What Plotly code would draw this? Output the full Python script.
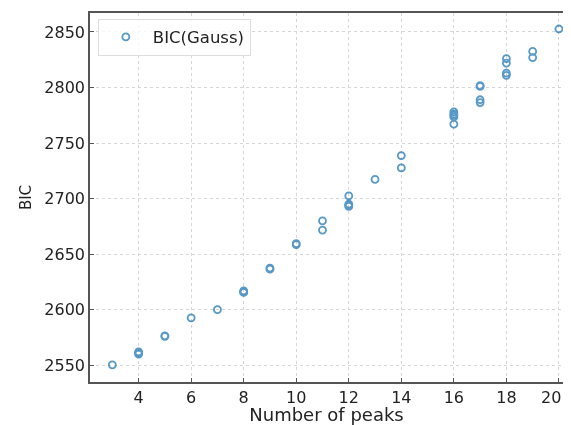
import plotly.graph_objects as go

# Data (number of peaks vs BIC)
peaks = [3, 4, 4, 4, 5, 5, 6, 7, 8, 8, 8, 9, 9, 10, 10,
         11, 11, 12, 12, 12, 12, 13, 14, 14,
         16, 16, 16, 16, 16, 17, 17, 17, 17,
         18, 18, 18, 18, 19, 19, 20]
bic = [2550.3, 2562, 2561, 2560, 2576.5, 2576, 2592.7, 2600, 2617, 2616, 2615.5, 2637.5, 2636.5, 2659.5, 2658.5,
       2680, 2671.7, 2702.4, 2695, 2694, 2693, 2717.3, 2738.7, 2727.6,
       2778, 2776, 2775, 2773.5, 2767, 2801.8, 2801, 2789, 2786.5,
       2826, 2822, 2813, 2811, 2832.5, 2827, 2852.7]

xticks = [4, 6, 8, 10, 12, 14, 16, 18, 20]
yticks = [2550, 2600, 2650, 2700, 2750, 2800, 2850]

FONT = "DejaVu Sans"
fig = go.Figure()
fig.add_trace(go.Scatter(
    x=peaks, y=bic, mode="markers", name="BIC(Gauss)",
    marker=dict(symbol="circle-open", size=7, color="#1f77b4",
                line=dict(width=1.8, color="#1f77b4")),
    opacity=0.75,
))

# the page body adds an 8px offset and the right strip is not visible,
# so the figure is sized to the visible part of the window
xtext = [str(t) for t in xticks]
xtext[-1] = xtext[-1] + "&nbsp;&nbsp;&nbsp;"  # keep the last label inside the visible area

fig.update_layout(
    width=555, height=417,
    margin=dict(l=82, r=0, t=5, b=43, autoexpand=False),
    plot_bgcolor="white", paper_bgcolor="white",
    font=dict(family=FONT, size=16, color="#222"),
    showlegend=True,
    legend=dict(x=0.0166, y=0.9845, xanchor="left", yanchor="top",
                bordercolor="#dddddd", borderwidth=1, bgcolor="rgba(255,255,255,0.8)",
                font=dict(family=FONT, size=16.5, color="#222"),
                itemwidth=44),
)
fig.update_xaxes(
    range=[2.15, 20.155], tickvals=xticks, ticktext=xtext,
    ticks="inside", ticklen=4, tickcolor="#555", showline=True, linecolor="#555", linewidth=1.5,
    mirror=True, showgrid=True, gridcolor="#d6d6d6", griddash="dot", gridwidth=1,
    zeroline=False, automargin=False, ticklabeloverflow="allow",
    title=dict(text="Number of peaks", font=dict(family=FONT, size=18, color="#222")),
    tickfont=dict(family=FONT, size=16, color="#222"),
)
fig.update_yaxes(
    range=[2534.9, 2867.1], tickvals=yticks, ticktext=[str(t) for t in yticks],
    ticks="inside", ticklen=4, tickcolor="#555", showline=True, linecolor="#555", linewidth=1.5,
    mirror=False, showgrid=True, gridcolor="#d6d6d6", griddash="dot", gridwidth=1,
    zeroline=False, automargin=False,
    title=dict(text="BIC", font=dict(family=FONT, size=15, color="#222"), standoff=9),
    tickfont=dict(family=FONT, size=16, color="#222"),
)

fig.write_html("out.html")
